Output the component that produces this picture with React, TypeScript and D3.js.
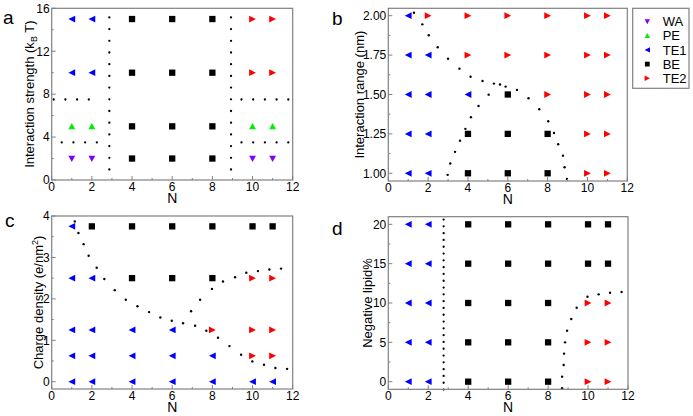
import React from 'react';
import * as d3 from 'd3';

// ---------- data ----------
const N_VALUES = [1, 2, 4, 6, 8, 10, 11];
const X_TICKS = [0, 2, 4, 6, 8, 10, 12];
const X_MINOR = [1, 3, 5, 7, 9, 11];

// Panel a: interaction strength
const A_LEVELS = [15, 10, 5, 2];
const A_PHASES = [
  ['TE1', 'TE1', 'BE', 'BE', 'BE', 'TE2', 'TE2'],
  ['TE1', 'TE1', 'BE', 'BE', 'BE', 'TE2', 'TE2'],
  ['PE', 'PE', 'BE', 'BE', 'BE', 'PE', 'PE'],
  ['WA', 'WA', 'BE', 'BE', 'BE', 'WA', 'WA'],
];
const A_TICKS = [0, 4, 8, 12, 16];
const A_MINOR = [2, 6, 10, 14];
const A_LINES: [number, number, number, number][] = [
  [2.87, 0.98, 2.87, 16],
  [8.93, 0.98, 8.93, 16],
  [0.1, 7.5, 2.4, 7.5],
  [9.45, 7.5, 11.85, 7.5],
  [0.5, 3.5, 2.4, 3.5],
  [9.45, 3.5, 11.85, 3.5],
];

// Panel b: interaction range
const B_LEVELS = [2.0, 1.75, 1.5, 1.25, 1.0];
const B_PHASES = [
  ['TE1', 'TE2', 'TE2', 'TE2', 'TE2', 'TE2', 'TE2'],
  ['TE1', 'TE1', 'TE2', 'TE2', 'TE2', 'TE2', 'TE2'],
  ['TE1', 'TE1', 'TE1', 'BE', 'TE2', 'TE2', 'TE2'],
  ['TE1', 'TE1', 'BE', 'BE', 'BE', 'TE2', 'TE2'],
  ['TE1', 'TE1', 'BE', 'BE', 'BE', 'TE2', 'TE2'],
];
const B_TICKS = [1.0, 1.25, 1.5, 1.75, 2.0];
const B_MINOR = [1.125, 1.375, 1.625, 1.875];
const B_BOUNDARY: [number, number][] = [
  [1.29, 2.019], [1.71, 1.945], [2.03, 1.876], [2.48, 1.8], [3.0, 1.727],
  [3.57, 1.664], [4.13, 1.613], [4.73, 1.586], [5.3, 1.569], [5.61, 1.563],
  [5.89, 1.55], [6.46, 1.529], [7.04, 1.476], [7.58, 1.406], [8.03, 1.33],
  [8.32, 1.256], [8.53, 1.184], [8.77, 1.112], [8.85, 1.038], [8.97, 0.964],
  [5.04, 1.499], [4.53, 1.427], [4.15, 1.356], [3.87, 1.282], [3.6, 1.207],
  [3.35, 1.136], [3.11, 1.062], [2.98, 0.99],
];

// Panel c: charge density
const C_LEVELS = [3.75, 2.5, 1.25, 0.625, 0];
const C_PHASES = [
  ['TE1', 'BE', 'BE', 'BE', 'BE', 'BE', 'BE'],
  ['TE1', 'TE1', 'BE', 'BE', 'BE', 'TE2', 'TE2'],
  ['TE1', 'TE1', 'TE1', 'TE1', 'TE2', 'TE2', 'TE2'],
  ['TE1', 'TE1', 'TE1', 'TE1', 'TE1', 'TE2', 'TE2'],
  ['TE1', 'TE1', 'TE1', 'TE1', 'TE1', 'TE1', 'TE1'],
];
const C_TICKS = [0, 1, 2, 3, 4];
const C_MINOR = [0.5, 1.5, 2.5, 3.5];
const C_BOUNDARY: [number, number][] = [
  [1.15, 3.87], [1.33, 3.59], [1.59, 3.32], [1.84, 3.04], [2.24, 2.75],
  [2.62, 2.48], [3.14, 2.21], [3.69, 1.98], [4.27, 1.82], [4.85, 1.68],
  [5.41, 1.55], [5.98, 1.47], [6.54, 1.41], [7.14, 1.35], [7.7, 1.23],
  [8.28, 1.06], [8.85, 0.86], [9.43, 0.65], [9.99, 0.49], [10.57, 0.41],
  [11.14, 0.33], [11.72, 0.31],
  [6.94, 1.7], [7.39, 1.98], [7.98, 2.24], [8.53, 2.42], [9.13, 2.52],
  [9.69, 2.63], [10.27, 2.67], [10.84, 2.71], [11.42, 2.73],
];

// Panel d: negative lipid %
const D_LEVELS = [20, 15, 10, 5, 0];
const D_PHASES = [
  ['TE1', 'TE1', 'BE', 'BE', 'BE', 'BE', 'BE'],
  ['TE1', 'TE1', 'BE', 'BE', 'BE', 'BE', 'BE'],
  ['TE1', 'TE1', 'BE', 'BE', 'BE', 'TE2', 'TE2'],
  ['TE1', 'TE1', 'BE', 'BE', 'BE', 'TE2', 'TE2'],
  ['TE1', 'TE1', 'BE', 'BE', 'BE', 'TE2', 'TE2'],
];
const D_TICKS = [0, 5, 10, 15, 20];
const D_MINOR = [2.5, 7.5, 12.5, 17.5];
const D_LINES: [number, number, number, number][] = [[2.77, -1, 2.77, 21]];
const D_BOUNDARY: [number, number][] = [
  [8.7, -0.84], [8.7, 0.64], [8.78, 2.12], [8.8, 3.56], [8.85, 5.0],
  [8.95, 6.48], [9.16, 7.97], [9.43, 9.4], [9.97, 10.8], [10.53, 11.1],
  [11.1, 11.31], [11.68, 11.4],
];

const LEGEND = ['WA', 'PE', 'TE1', 'BE', 'TE2'];

// ---------- styles ----------
const COLORS: Record<string, string> = {
  WA: '#8000ff',
  PE: '#00ee00',
  TE1: '#0000ff',
  BE: '#000000',
  TE2: '#ff0000',
};
const FONT = 'Liberation Sans, Arial, sans-serif';
const FRAME = '#808080';

function markerPath(type: string, s: number): string {
  const h = s / 2;
  switch (type) {
    case 'BE':
      return `M${-h},${-h}h${s}v${s}h${-s}Z`;
    case 'TE1':
      return `M${-h},0L${h},${-h}L${h},${h}Z`;
    case 'TE2':
      return `M${h},0L${-h},${-h}L${-h},${h}Z`;
    case 'PE':
      return `M0,${-h}L${h},${h * 0.85}L${-h},${h * 0.85}Z`;
    case 'WA':
      return `M0,${h}L${h},${-h * 0.85}L${-h},${-h * 0.85}Z`;
    default:
      return '';
  }
}

interface PanelProps {
  left: number;
  right: number;
  top: number;
  bottom: number;
  yDomain: [number, number];
  yTicks: number[];
  yMinor: number[];
  yFmt: (v: number) => string;
  levels: number[];
  phases: string[][];
  boundary?: [number, number][];
  lines?: [number, number, number, number][];
  dotGap: number;
  title: React.ReactNode;
  titleX: number;
  letter: string;
  letterX: number;
  letterY: number;
}

function Panel(p: PanelProps) {
  const x = d3.scaleLinear().domain([0, 12]).range([p.left, p.right]);
  const y = d3.scaleLinear().domain(p.yDomain).range([p.bottom, p.top]);
  const cy = (p.top + p.bottom) / 2;
  return (
    <g>
      {(p.lines || []).map((l, i) => (
        <line
          key={'l' + i}
          x1={x(l[0])}
          y1={y(l[1])}
          x2={x(l[2])}
          y2={y(l[3])}
          stroke="#000"
          strokeWidth={2.3}
          strokeLinecap="round"
          strokeDasharray={`0 ${p.dotGap}`}
        />
      ))}
      {(p.boundary || []).map((b, i) => (
        <circle key={'b' + i} cx={x(b[0])} cy={y(b[1])} r={1.2} fill="#000" />
      ))}
      {p.levels.map((lv, r) =>
        N_VALUES.map((n, c) => {
          const t = p.phases[r][c];
          return (
            <path
              key={`m${r}-${c}`}
              d={markerPath(t, t === 'BE' ? 6.3 : 6.8)}
              transform={`translate(${x(n)},${y(lv)})`}
              fill={COLORS[t]}
            />
          );
        })
      )}
      <rect
        x={p.left}
        y={p.top}
        width={p.right - p.left}
        height={p.bottom - p.top}
        fill="none"
        stroke={FRAME}
        strokeWidth={1.2}
      />
      {X_TICKS.map((t) => (
        <g key={'xt' + t}>
          <line x1={x(t)} x2={x(t)} y1={p.bottom} y2={p.bottom - 4} stroke={FRAME} />
          <text
            x={x(t)}
            y={p.bottom + 11}
            textAnchor="middle"
            fontSize={12}
            fontFamily={FONT}
          >
            {t}
          </text>
        </g>
      ))}
      {X_MINOR.map((t) => (
        <line key={'xm' + t} x1={x(t)} x2={x(t)} y1={p.bottom} y2={p.bottom - 2} stroke={FRAME} />
      ))}
      <text
        x={(p.left + p.right) / 2}
        y={p.bottom + 23}
        textAnchor="middle"
        fontSize={14}
        fontFamily={FONT}
      >
        N
      </text>
      {p.yTicks.map((t) => (
        <g key={'yt' + t}>
          <line x1={p.left} x2={p.left + 4} y1={y(t)} y2={y(t)} stroke={FRAME} />
          <text
            x={p.left - 2}
            y={y(t) + 4.3}
            textAnchor="end"
            fontSize={12}
            fontFamily={FONT}
          >
            {p.yFmt(t)}
          </text>
        </g>
      ))}
      {p.yMinor.map((t) => (
        <line key={'ym' + t} x1={p.left} x2={p.left + 2} y1={y(t)} y2={y(t)} stroke={FRAME} />
      ))}
      <text
        transform={`translate(${p.titleX},${cy}) rotate(-90)`}
        textAnchor="middle"
        fontSize={13}
        fontFamily={FONT}
      >
        {p.title}
      </text>
      <text x={p.letterX} y={p.letterY} fontSize={19} fontFamily={FONT}>
        {p.letter}
      </text>
    </g>
  );
}

export default function App() {
  const legX = 632.7;
  const legY = 8.3;
  return (
    <svg
      width={693}
      height={416}
      style={{ position: 'fixed', left: 0, top: 0, background: '#fff' }}
    >
      <rect width={693} height={416} fill="#fff" />
      <Panel
        left={51.7}
        right={292.7}
        top={8.3}
        bottom={180}
        yDomain={[0, 16]}
        yTicks={A_TICKS}
        yMinor={A_MINOR}
        yFmt={(v) => String(v)}
        levels={A_LEVELS}
        phases={A_PHASES}
        lines={A_LINES}
        dotGap={11.7}
        title={
          <>
            Interaction strength (k
            <tspan fontSize={9} dy={3}>B</tspan>
            <tspan dy={-3}> T)</tspan>
          </>
        }
        titleX={34}
        letter="a"
        letterX={3}
        letterY={24}
      />
      <Panel
        left={388.3}
        right={627.3}
        top={8.3}
        bottom={181}
        yDomain={[0.951, 2.047]}
        yTicks={B_TICKS}
        yMinor={B_MINOR}
        yFmt={(v) => v.toFixed(2)}
        levels={B_LEVELS}
        phases={B_PHASES}
        boundary={B_BOUNDARY}
        dotGap={11.7}
        title="Interaction range (nm)"
        titleX={364}
        letter="b"
        letterX={332}
        letterY={25}
      />
      <Panel
        left={51.7}
        right={292.7}
        top={216}
        bottom={389}
        yDomain={[-0.176, 4]}
        yTicks={C_TICKS}
        yMinor={C_MINOR}
        yFmt={(v) => String(v)}
        levels={C_LEVELS}
        phases={C_PHASES}
        boundary={C_BOUNDARY}
        dotGap={11.7}
        title={
          <>
            Charge density (e/nm
            <tspan fontSize={9} dy={-5}>2</tspan>
            <tspan dy={5}>)</tspan>
          </>
        }
        titleX={42.5}
        letter="c"
        letterX={5}
        letterY={227}
      />
      <Panel
        left={388.3}
        right={628}
        top={216.7}
        bottom={389.3}
        yDomain={[-0.97, 20.97]}
        yTicks={D_TICKS}
        yMinor={D_MINOR}
        yFmt={(v) => String(v)}
        levels={D_LEVELS}
        phases={D_PHASES}
        lines={D_LINES}
        boundary={D_BOUNDARY}
        dotGap={6.8}
        title="Negative lipid%"
        titleX={371.5}
        letter="d"
        letterX={332}
        letterY={235}
      />
      <rect
        x={legX}
        y={legY}
        width={56.3}
        height={80}
        fill="#fff"
        stroke={FRAME}
        strokeWidth={1.2}
      />
      {LEGEND.map((t, i) => {
        const yy = 21.5 + i * 14.2;
        return (
          <g key={t}>
            <path
              d={markerPath(t, t === 'BE' ? 4.8 : 5.4)}
              transform={`translate(${647.3},${yy})`}
              fill={COLORS[t]}
            />
            <text x={662.7} y={yy + 4.6} fontSize={13} fontFamily={FONT}>
              {t}
            </text>
          </g>
        );
      })}
    </svg>
  );
}
